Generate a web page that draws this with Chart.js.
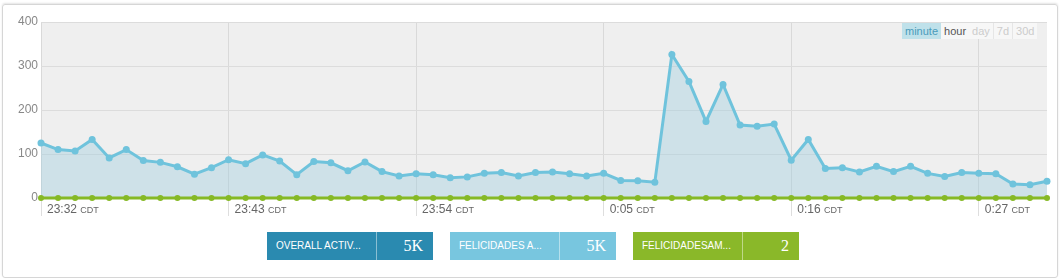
<!DOCTYPE html>
<html>
<head>
<meta charset="utf-8">
<script src="https://cdn.jsdelivr.net/npm/chart.js@4.4.0/dist/chart.umd.min.js"></script>
<style>
  html, body { margin: 0; padding: 0; background: #fff; }
  body { width: 1060px; height: 278px; position: relative; overflow: hidden; font-family: "Liberation Sans", Arial, sans-serif; }
  .panel { position: absolute; left: 2px; top: 4px; width: 1054px; height: 272px; border: 1px solid #d6d6d6; border-radius: 3px; box-shadow: 0 -1px 2px #e4e4e4; }
  #wrap { position: absolute; left: 0; top: 0; width: 1060px; height: 224px; }
  .ranges { position: absolute; top: 23px; left: 902px; display: flex; font-size: 11px; line-height: 16px; }
  .ranges span { padding: 0 3px; background: #f7f7f7; color: #ccc; border-left: 1px solid #e6e6e6; }
  .ranges span.on { background: #bfe1ea; color: #4a9bba; border-left: none; }
  .ranges span.hr { color: #555; border-left: none; }
  .legend { position: absolute; top: 232px; left: 267px; display: flex; }
  .item { display: flex; height: 28px; margin-right: 17px; color: #fff; }
  .item .name { width: 110px; font-size: 10px; line-height: 28px; padding-left: 9px; box-sizing: border-box; border-right: 1px solid rgba(255,255,255,0.45); }
  .item .val { width: 56px; text-align: right; padding-right: 10px; box-sizing: border-box; font-family: "Liberation Serif", "DejaVu Serif", serif; font-size: 16px; line-height: 28px; }
</style>
</head>
<body>
<div class="panel"></div>
<div id="wrap"><canvas id="activityChart"></canvas></div>
<div class="ranges">
  <span class="on">minute</span><span class="hr">hour</span><span style="border-left:none">day</span><span>7d</span><span>30d</span>
</div>
<div class="legend" id="legend"></div>
<script>
// minute buckets 23:32 -> 0:31 (CDT)
const minutes = [
  "23:32","23:33","23:34","23:35","23:36","23:37","23:38","23:39","23:40","23:41",
  "23:42","23:43","23:44","23:45","23:46","23:47","23:48","23:49","23:50","23:51",
  "23:52","23:53","23:54","23:55","23:56","23:57","23:58","23:59","0:00","0:01",
  "0:02","0:03","0:04","0:05","0:06","0:07","0:08","0:09","0:10","0:11",
  "0:12","0:13","0:14","0:15","0:16","0:17","0:18","0:19","0:20","0:21",
  "0:22","0:23","0:24","0:25","0:26","0:27","0:28","0:29","0:30","0:31"
];
const labelEvery = 11;

const felicidadesA = [
  125, 110, 107, 133, 91, 110, 85, 81, 71, 54,
  69, 87, 78, 98, 84, 53, 83, 80, 62, 82,
  60, 50, 55, 53, 46, 48, 56, 58, 50, 58,
  59, 55, 50, 56, 40, 39, 36, 326, 265, 174,
  258, 166, 163, 168, 86, 133, 67, 69, 59, 72,
  60, 72, 56, 49, 58, 56, 55, 32, 30, 38
];
const felicidadesSam = new Array(60).fill(0);

const yTicks = [0, 100, 200, 300, 400];

const legendItems = [
  { name: "OVERALL ACTIV...", value: "5K", color: "#2a8ab0" },
  { name: "FELICIDADES A...", value: "5K", color: "#78c6df" },
  { name: "FELICIDADESAM...", value: "2", color: "#8ab829" }
];

// legend boxes
const legend = document.getElementById("legend");
legendItems.forEach(it => {
  const d = document.createElement("div");
  d.className = "item";
  d.style.background = it.color;
  d.innerHTML = `<div class="name">${it.name}</div><div class="val">${it.value}</div>`;
  legend.appendChild(d);
});

// grey plot background
const plotBg = {
  id: "plotBg",
  beforeDraw(chart) {
    const { ctx, chartArea: a } = chart;
    ctx.save();
    ctx.fillStyle = "#efefef";
    ctx.fillRect(a.left, a.top, a.right - a.left, a.bottom - a.top);
    ctx.restore();
  }
};

// time labels "23:32 CDT" with small caps zone
const timeLabels = {
  id: "timeLabels",
  afterDraw(chart) {
    const { ctx, scales } = chart;
    const x = scales.x;
    ctx.save();
    ctx.textBaseline = "alphabetic";
    minutes.forEach((m, i) => {
      if (i % labelEvery !== 0) return;
      const px = x.getPixelForValue(i) + 6;
      const py = chart.chartArea.bottom + 15;
      ctx.fillStyle = "#666";
      ctx.font = '12px "Liberation Sans", Arial, sans-serif';
      ctx.fillText(m, px, py);
      const w = ctx.measureText(m + " ").width;
      ctx.font = '9px "Liberation Sans", Arial, sans-serif';
      ctx.fillText("CDT", px + w, py);
    });
    ctx.restore();
  }
};

new Chart(document.getElementById("activityChart"), {
  type: "line",
  data: {
    labels: minutes,
    datasets: [
      {
        label: "FelicidadesAmor",
        data: felicidadesSam,
        borderColor: "#86b925",
        backgroundColor: "#86b925",
        borderWidth: 3,
        pointRadius: 3,
        pointBorderWidth: 0,
        tension: 0,
        fill: false,
        clip: 8,
        order: 0
      },
      {
        label: "Felicidades A",
        data: felicidadesA,
        borderColor: "#6fc3dc",
        backgroundColor: "#6fc3dc",
        borderWidth: 3,
        pointRadius: 3.5,
        pointBorderWidth: 0,
        tension: 0,
        fill: { target: "origin", above: "rgba(160,205,222,0.42)" },
        clip: 8,
        order: 1
      }
    ]
  },
  options: {
    responsive: true,
    maintainAspectRatio: false,
    animation: false,
    events: [],
    layout: { padding: { top: 22, right: 13, bottom: 8, left: 0 } },
    plugins: { legend: { display: false }, tooltip: { enabled: false } },
    scales: {
      x: {
        ticks: { display: false, autoSkip: false },
        grid: {
          color: c => (c.index % labelEvery === 0 ? "#d9d9d9" : "rgba(0,0,0,0)"),
          tickColor: c => (c.index % labelEvery === 0 ? "#dedede" : "rgba(0,0,0,0)"),
          tickLength: 18,
          drawTicks: true
        },
        border: { display: false }
      },
      y: {
        min: 0,
        max: 400,
        afterFit(scale) { scale.width = 41; },
        afterBuildTicks(scale) { scale.ticks = yTicks.map(v => ({ value: v })); },
        ticks: {
          color: "#888",
          padding: 3,
          font: { family: '"Liberation Sans", Arial, sans-serif', size: 12 }
        },
        grid: { color: "#dcdcdc", drawTicks: false },
        border: { display: false }
      }
    }
  },
  plugins: [plotBg, timeLabels]
});
</script>
</body>
</html>
